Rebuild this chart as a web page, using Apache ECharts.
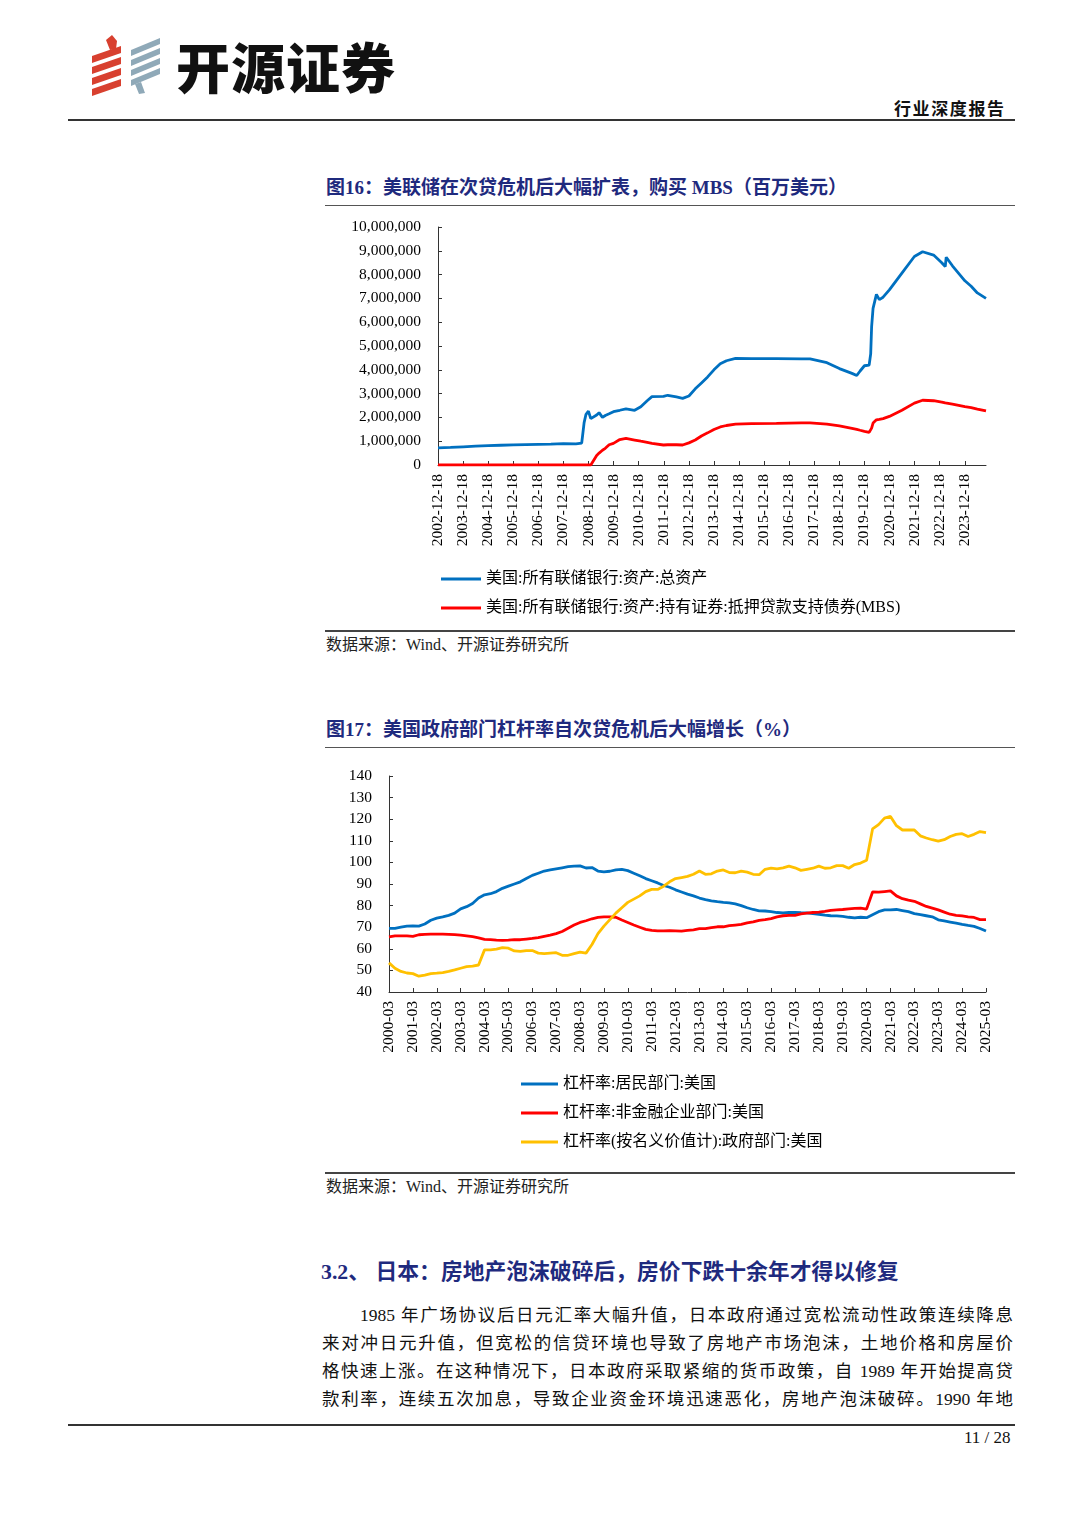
<!DOCTYPE html>
<html>
<head>
<meta charset="utf-8">
<script src="https://cdn.jsdelivr.net/npm/echarts@6/dist/echarts.min.js"></script>
<style>
  html, body { margin: 0; padding: 0; background: #fff; }
  #page { position: relative; width: 1080px; height: 1527px; overflow: hidden; background: #fff;
          font-family: "Liberation Serif", "Noto Sans CJK SC", serif; color: #000; }
  .abs { position: absolute; white-space: nowrap; }
  .hline { position: absolute; background: #333; }
  .ftitle { font-size: 19px; font-weight: bold; color: #1f2a7e; line-height: 24px; }
  .src { font-size: 16px; color: #222; line-height: 20px; }
  .para { position: absolute; font-size: 17.5px; line-height: 26px; text-align: justify; text-align-last: justify; white-space: nowrap; color: #111; }
</style>
</head>
<body>
<div id="page">
  <!-- logo -->
  <svg class="abs" style="left:0;top:0" width="200" height="110">
    <polygon points="106,40 112,35 117,41 116,49 110,50" fill="#d8402f"/>
    <polygon points="92,56 121,46 121,53 92,63" fill="#d8402f"/>
    <polygon points="92,67 121,57 121,64 92,74" fill="#d8402f"/>
    <polygon points="92,78 121,68 121,75 92,85" fill="#d8402f"/>
    <polygon points="92,89 121,79 121,86 92,96" fill="#d8402f"/>
    <polygon points="131,50 160,38 160,44 131,56" fill="#8fa9b8"/>
    <polygon points="131,60 160,48 160,54 131,66" fill="#8fa9b8"/>
    <polygon points="131,70 160,58 160,64 131,76" fill="#8fa9b8"/>
    <polygon points="131,80 160,68 160,74 131,86" fill="#8fa9b8"/>
    <polygon points="135,84 141,82 145,93 139,94" fill="#8fa9b8"/>
  </svg>
  <div class="abs" style="left:176px;top:34px;font-family:'Noto Sans CJK SC',sans-serif;font-weight:900;font-size:54px;line-height:64px;letter-spacing:1px;color:#111;">开源证券</div>
  <div class="abs" style="left:894px;top:99px;font-size:17px;line-height:22px;font-weight:bold;letter-spacing:1.6px;color:#111;">行业深度报告</div>
  <div class="hline" style="left:68px;top:119px;width:947px;height:2px;"></div>

  <!-- figure 16 -->
  <div class="abs ftitle" style="left:326px;top:176px;">图16：美联储在次贷危机后大幅扩表，购买 MBS（百万美元）</div>
  <div class="hline" style="left:325px;top:205px;width:690px;height:1px;background:#555;"></div>
  <div id="c1" style="position:absolute;left:325px;top:206px;width:690px;height:424px;"></div>
  <div class="hline" style="left:325px;top:630px;width:690px;height:1.5px;background:#444;"></div>
  <div class="abs src" style="left:326px;top:635px;">数据来源：Wind、开源证券研究所</div>

  <!-- figure 17 -->
  <div class="abs ftitle" style="left:326px;top:718px;">图17：美国政府部门杠杆率自次贷危机后大幅增长（%）</div>
  <div class="hline" style="left:325px;top:747px;width:690px;height:1px;background:#555;"></div>
  <div id="c2" style="position:absolute;left:325px;top:748px;width:690px;height:424px;"></div>
  <div class="hline" style="left:325px;top:1172px;width:690px;height:1.5px;background:#444;"></div>
  <div class="abs src" style="left:326px;top:1177px;">数据来源：Wind、开源证券研究所</div>

  <!-- section -->
  <div class="abs" style="left:321px;top:1258px;font-size:21.8px;line-height:28px;font-weight:bold;color:#1f2a7e;">3.2、 日本：房地产泡沫破碎后，房价下跌十余年才得以修复</div>
  <div class="para" style="left:360px;top:1302px;width:653px;">1985 年广场协议后日元汇率大幅升值，日本政府通过宽松流动性政策连续降息</div>
  <div class="para" style="left:322px;top:1330px;width:691px;">来对冲日元升值，但宽松的信贷环境也导致了房地产市场泡沫，土地价格和房屋价</div>
  <div class="para" style="left:322px;top:1358px;width:691px;">格快速上涨。在这种情况下，日本政府采取紧缩的货币政策，自 1989 年开始提高贷</div>
  <div class="para" style="left:322px;top:1386px;width:691px;">款利率，连续五次加息，导致企业资金环境迅速恶化，房地产泡沫破碎。1990 年地</div>

  <div class="hline" style="left:68px;top:1424px;width:947px;height:1.5px;"></div>
  <div class="abs" style="left:964px;top:1428px;font-size:17px;line-height:20px;color:#111;">11 / 28</div>
</div>

<script>
// ---------------- Figure 16 data (百万美元) ----------------
const fedDates = [
 '2002-12-18','2003-06-18','2003-12-18','2004-06-18','2004-12-18','2005-06-18','2005-12-18','2006-06-18',
 '2006-12-18','2007-06-18','2007-12-18','2008-06-18','2008-09-10','2008-09-24','2008-10-15','2008-11-12',
 '2008-12-17','2009-01-21','2009-02-18','2009-04-15','2009-05-20','2009-07-08','2009-08-19','2009-10-14',
 '2009-12-16','2010-03-17','2010-06-16','2010-10-20','2011-01-19','2011-04-20','2011-06-29','2011-12-14',
 '2012-02-15','2012-06-20','2012-09-19','2012-12-19','2013-03-20','2013-06-19','2013-09-18','2013-12-18',
 '2014-03-19','2014-06-18','2014-10-29','2015-06-17','2016-06-15','2017-06-14','2017-10-18','2018-06-20',
 '2018-12-19','2019-06-19','2019-08-28','2019-10-16','2019-12-18','2020-02-26','2020-03-18','2020-04-01',
 '2020-04-22','2020-06-10','2020-07-22','2020-09-16','2020-12-16','2021-06-16','2021-12-15','2022-04-13',
 '2022-09-21','2023-01-18','2023-03-08','2023-03-22','2023-06-21','2023-12-20','2024-03-20','2024-06-19',
 '2024-10-23'
];
const fedTotal = [
 720000,740000,765000,790000,815000,830000,845000,860000,
 870000,880000,895000,890000,920000,1250000,1780000,2130000,
 2260000,1950000,1870000,2100000,2200000,2000000,2080000,2150000,
 2240000,2300000,2360000,2300000,2450000,2700000,2870000,2880000,
 2930000,2860000,2800000,2900000,3200000,3450000,3700000,4000000,
 4250000,4380000,4480000,4470000,4470000,4460000,4460000,4300000,
 4050000,3850000,3760000,3950000,4170000,4200000,4670000,5800000,
 6580000,7170000,6950000,7050000,7360000,8060000,8760000,8960000,
 8820000,8500000,8340000,8730000,8370000,7740000,7510000,7230000,
 7000000
];
const fedMBS = [
 0,0,0,0,0,0,0,0,
 0,0,0,0,0,0,0,0,
 0,0,70000,400000,500000,620000,700000,850000,
 910000,1070000,1120000,1050000,1000000,950000,910000,840000,
 850000,850000,840000,930000,1050000,1220000,1350000,1490000,
 1600000,1660000,1720000,1740000,1750000,1770000,1770000,1720000,
 1640000,1540000,1500000,1460000,1410000,1370000,1390000,1550000,
 1760000,1900000,1920000,1950000,2040000,2300000,2600000,2720000,
 2700000,2640000,2610000,2600000,2560000,2450000,2410000,2350000,
 2270000
];
const xLabels1 = ['2002-12-18','2003-12-18','2004-12-18','2005-12-18','2006-12-18','2007-12-18','2008-12-18',
 '2009-12-18','2010-12-18','2011-12-18','2012-12-18','2013-12-18','2014-12-18','2015-12-18','2016-12-18',
 '2017-12-18','2018-12-18','2019-12-18','2020-12-18','2021-12-18','2022-12-18','2023-12-18'];
const names1 = ['美国:所有联储银行:资产:总资产','美国:所有联储银行:资产:持有证券:抵押贷款支持债券(MBS)'];

// ---------------- Figure 17 data (%), quarterly 2000-03 ... 2025-03 ----------------
const levHousehold = [
 69.5,69.5,70.0,70.5,  70.6,70.5,71.5,73.2,  74.2,74.8,75.5,76.5,  78.5,79.5,81.0,83.5,
 85.0,85.5,86.5,88.0,  89.0,90.0,91.0,92.5,  94.0,95.0,96.0,96.5,  97.0,97.5,98.0,98.3,
 98.4,97.4,97.6,96.0,  95.6,95.9,96.5,96.8,  96.2,95.0,93.8,92.5,  91.5,90.5,89.3,88.5,
 87.3,86.3,85.3,84.5,  83.5,82.8,82.2,81.8,  81.5,81.3,80.8,80.0,  79.0,78.2,77.6,77.5,
 77.2,76.8,76.6,76.8,  76.9,76.7,76.6,76.3,  76.0,75.6,75.3,75.2,  75.0,74.6,74.3,74.6,
 74.4,75.8,77.2,78.0,  78.0,78.2,77.7,77.2,  76.3,75.8,75.3,74.8,  73.4,72.9,72.4,71.9,
 71.3,70.8,70.4,69.4,  68.2
];
const levCorporate = [
 65.5,66.0,66.0,66.0,  65.8,66.5,66.7,66.8,  66.8,66.8,66.7,66.6,  66.3,66.0,65.6,65.1,
 64.4,64.2,64.0,63.9,  64.0,64.2,64.2,64.5,  64.8,65.2,65.8,66.3,  67.0,68.0,69.5,71.0,
 72.2,73.0,73.9,74.5,  74.8,74.8,74.6,73.3,  72.2,71.0,70.0,69.0,  68.5,68.3,68.3,68.4,
 68.3,68.2,68.5,68.8,  69.3,69.3,69.8,70.2,  70.2,70.7,71.0,71.3,  72.0,72.5,73.2,73.5,
 74.0,74.8,75.3,75.5,  75.5,76.2,76.5,76.8,  77.0,77.3,77.8,78.0,  78.2,78.5,78.7,78.8,
 78.4,86.3,86.2,86.5,  86.8,84.5,83.2,82.5,  82.0,80.8,79.6,78.8,  78.0,77.0,76.0,75.5,
 75.2,74.8,74.5,73.5,  73.5
];
const levGovernment = [
 53.5,51.0,49.5,48.8,  48.5,47.3,47.8,48.5,  48.7,49.0,49.5,50.2,  51.0,51.7,52.0,52.5,
 59.5,59.5,59.8,60.5,  60.3,59.0,58.8,59.2,  59.2,58.0,57.8,58.0,  58.2,57.0,57.0,57.8,
 58.5,58.0,62.0,67.0,  70.5,73.5,76.5,79.0,  81.5,83.0,84.5,86.5,  87.5,87.5,89.0,91.0,
 92.5,93.0,93.5,94.5,  96.0,94.5,94.7,96.0,  96.5,95.3,95.2,96.0,  95.5,94.5,94.3,96.8,
 97.3,97.0,97.5,98.3,  97.5,96.3,96.8,97.3,  98.3,97.3,97.5,98.5,  98.5,97.3,99.0,99.7,
 101.0,115.5,117.5,120.5, 121.3,117.0,115.0,115.0, 115.0,112.3,111.3,110.5, 109.8,110.5,112.0,113.0,
 113.3,112.0,113.0,114.3, 113.8
];
const names2 = ['杠杆率:居民部门:美国','杠杆率:非金融企业部门:美国','杠杆率(按名义价值计):政府部门:美国'];
const quarters = [];
for (let y = 2000; y <= 2025; y++) {
  for (const m of ['03','06','09','12']) {
    if (y === 2025 && m !== '03') break;
    quarters.push(y + '-' + m);
  }
}

// ---------------- helpers ----------------
const FONT = '"Liberation Serif", "Noto Sans CJK SC", serif';
function yearFrac(s) { const p = s.split('-').map(Number); return p[0] + (p[1] - 1) / 12 + (p[2] - 1) / 365; }
const base1 = yearFrac(xLabels1[0]);
const xTicks1 = xLabels1.map(s => yearFrac(s) - base1);
const xMax1 = yearFrac(fedDates[fedDates.length - 1]) - base1;
const axisLineStyle = { color: '#333', width: 1 };
const legendBase = { orient: 'vertical', icon: 'rect', itemHeight: 3, itemGap: 13, padding: 0,
  textStyle: { fontFamily: FONT, fontSize: 16, color: '#000' } };

// ---------------- chart 1 ----------------
const c1 = echarts.init(document.getElementById('c1'));
c1.setOption({
  animation: false,
  textStyle: { fontFamily: FONT },
  grid: { left: 113, top: 21, width: 548, height: 238, containLabel: false },
  legend: Object.assign({}, legendBase, { left: 116, top: 365, itemWidth: 40, data: names1 }),
  xAxis: {
    type: 'value', min: 0, max: xMax1,
    axisLine: { show: true, lineStyle: axisLineStyle },
    axisTick: { show: true, inside: true, length: 4, customValues: xTicks1, lineStyle: axisLineStyle },
    axisLabel: {
      customValues: xTicks1, rotate: 90, margin: 9, fontSize: 15.5, color: '#000', fontFamily: FONT,
      formatter: v => { const i = xTicks1.findIndex(t => Math.abs(t - v) < 1e-6); return i >= 0 ? xLabels1[i] : ''; }
    },
    splitLine: { show: false }
  },
  yAxis: {
    type: 'value', min: 0, max: 10000000, interval: 1000000,
    axisLine: { show: true, lineStyle: axisLineStyle },
    axisTick: { show: true, inside: true, length: 4, lineStyle: axisLineStyle },
    axisLabel: { margin: 17, fontSize: 15.5, color: '#000', fontFamily: FONT,
      formatter: v => v.toLocaleString('en-US') },
    splitLine: { show: false }
  },
  series: [
    { name: names1[0], type: 'line', showSymbol: false, symbol: 'none',
      lineStyle: { color: '#0070c0', width: 2.8 }, itemStyle: { color: '#0070c0' },
      data: fedDates.map((d, i) => [yearFrac(d) - base1, fedTotal[i]]) },
    { name: names1[1], type: 'line', showSymbol: false, symbol: 'none',
      lineStyle: { color: '#ff0000', width: 2.8 }, itemStyle: { color: '#ff0000' },
      data: fedDates.map((d, i) => [yearFrac(d) - base1, fedMBS[i]]) }
  ]
});

// ---------------- chart 2 ----------------
const c2 = echarts.init(document.getElementById('c2'));
const colors2 = ['#0070c0', '#ff0000', '#ffc000'];
const vals2 = [levHousehold, levCorporate, levGovernment];
c2.setOption({
  animation: false,
  textStyle: { fontFamily: FONT },
  grid: { left: 64, top: 28, width: 597, height: 216, containLabel: false },
  legend: Object.assign({}, legendBase, { left: 196, top: 328, itemWidth: 37, data: names2 }),
  xAxis: {
    type: 'category', data: quarters, boundaryGap: false,
    axisLine: { show: true, lineStyle: axisLineStyle },
    axisTick: { show: true, inside: true, length: 4, interval: 3, lineStyle: axisLineStyle },
    axisLabel: { interval: 3, rotate: 90, margin: 9, fontSize: 15.5, color: '#000', fontFamily: FONT },
    splitLine: { show: false }
  },
  yAxis: {
    type: 'value', min: 40, max: 140, interval: 10,
    axisLine: { show: true, lineStyle: axisLineStyle },
    axisTick: { show: true, inside: true, length: 4, lineStyle: axisLineStyle },
    axisLabel: { margin: 17, fontSize: 15.5, color: '#000', fontFamily: FONT },
    splitLine: { show: false }
  },
  series: names2.map((n, k) => ({
    name: n, type: 'line', showSymbol: false, symbol: 'none',
    lineStyle: { color: colors2[k], width: 2.8 }, itemStyle: { color: colors2[k] },
    data: vals2[k]
  }))
});
</script>
</body>
</html>
